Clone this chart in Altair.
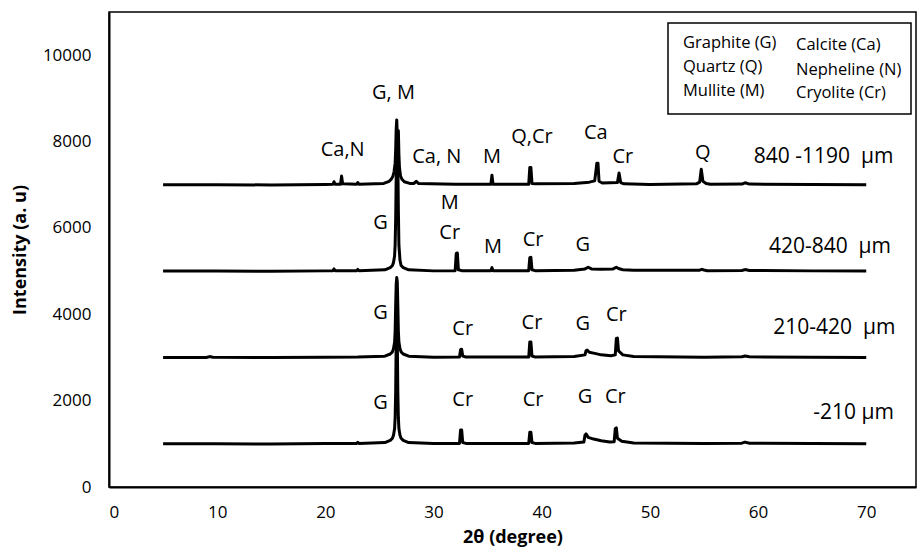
import altair as alt
import pandas as pd

# ---- XRD patterns (2θ in degrees, intensity in a.u., offset traces as plotted) ----
X_210 = [5, 10, 15, 20, 22.9, 23.0, 23.1, 25.5, 26.0, 26.2, 26.3, 26.4, 26.45, 26.5, 26.55, 26.6,
         26.65, 26.7, 26.75, 26.8, 26.9, 27.0, 27.2, 27.7, 30, 32.4, 32.5, 32.6, 32.7, 33,
         38.8, 38.9, 39.0, 39.1, 39.4, 43, 43.9, 44.0, 44.1, 44.3, 44.8, 45.5, 46.3, 46.7,
         46.8, 46.9, 47.0, 47.4, 48.5, 55, 58.5, 58.8, 59.2, 65, 70]
Y_210 = [1000, 1000, 995, 1005, 1010, 1035, 1010, 1030, 1080, 1130, 1200, 1350, 1600, 2200, 3400, 4500,
         3400, 2200, 1600, 1350, 1200, 1130, 1080, 1030, 1005, 1010, 1320, 1320, 1030, 1010,
         1010, 1270, 1270, 1030, 1010, 1020, 1040, 1200, 1230, 1150, 1110, 1070, 1040, 1050,
         1350, 1370, 1130, 1060, 1020, 1005, 1015, 1040, 1015, 1005, 1000]

X_420 = [5, 9.0, 9.3, 9.6, 15, 20, 23.0, 25.5, 26.0, 26.2, 26.3, 26.4, 26.45, 26.5, 26.55, 26.6,
         26.65, 26.7, 26.75, 26.8, 26.9, 27.0, 27.2, 27.7, 30, 32.4, 32.5, 32.6, 32.7, 33,
         38.8, 38.9, 39.0, 39.1, 39.4, 43, 44.0, 44.1, 44.2, 44.4, 44.8, 45.5, 46.4, 46.8,
         46.9, 47.0, 47.1, 47.5, 48.5, 55, 58.5, 58.8, 59.2, 65, 70]
Y_420 = [3000, 3000, 3020, 3005, 3000, 3005, 3010, 3030, 3080, 3130, 3200, 3350, 3600, 4200, 4700, 4850,
         4750, 4200, 3600, 3350, 3200, 3130, 3080, 3030, 3005, 3010, 3180, 3190, 3030, 3010,
         3010, 3360, 3360, 3030, 3010, 3020, 3060, 3160, 3170, 3120, 3100, 3060, 3040, 3060,
         3440, 3450, 3150, 3060, 3020, 3005, 3015, 3035, 3015, 3005, 3000]

X_840 = [5, 10, 15, 20, 20.7, 20.8, 20.9, 22.9, 23.0, 23.1, 25.5, 26.0, 26.2, 26.3, 26.4, 26.45,
         26.5, 26.55, 26.6, 26.65, 26.7, 26.75, 26.8, 26.9, 27.0, 27.2, 27.7, 30, 32.0, 32.1,
         32.2, 32.3, 32.6, 35.3, 35.4, 35.5, 38.8, 38.9, 39.0, 39.1, 39.4, 43, 44.0, 44.3,
         44.6, 45.5, 46.6, 46.9, 47.1, 47.5, 48.5, 54.6, 54.8, 55.0, 55.3, 58.5, 58.8, 59.2,
         65, 70]
Y_840 = [5000, 5000, 4995, 5005, 5010, 5050, 5010, 5010, 5040, 5010, 5030, 5080, 5130, 5200, 5350, 5600,
         6200, 7200, 7900, 8200, 7600, 6400, 5600, 5250, 5130, 5080, 5030, 5005, 5010, 5410,
         5420, 5030, 5010, 5010, 5080, 5010, 5010, 5310, 5320, 5030, 5010, 5020, 5050, 5090,
         5050, 5040, 5050, 5090, 5060, 5030, 5020, 5020, 5040, 5025, 5010, 5015, 5035, 5015,
         5005, 5000]

X_1190 = [5, 10, 15, 20, 20.7, 20.8, 20.9, 21.4, 21.5, 21.6, 22.9, 23.0, 23.1, 25.4, 25.9, 26.1,
          26.25, 26.35, 26.45, 26.5, 26.55, 26.6, 26.65, 26.7, 26.75, 26.8, 26.85, 26.95, 27.1,
          27.3, 27.8, 28.2, 28.4, 28.6, 32, 35.3, 35.4, 35.5, 38.8, 38.9, 39.0, 39.1, 39.4,
          43, 44.4, 44.9, 45.1, 45.2, 45.3, 45.6, 47.0, 47.15, 47.3, 47.6, 50, 54.3, 54.6,
          54.75, 54.9, 55.2, 55.6, 58.5, 58.8, 59.2, 65, 70]
Y_1190 = [7000, 7000, 6995, 7005, 7010, 7070, 7010, 7010, 7200, 7020, 7010, 7050, 7010, 7030, 7080, 7130,
          7200, 7300, 7500, 7800, 8300, 8500, 8150, 8200, 8250, 7700, 7400, 7200, 7120,
          7070, 7030, 7030, 7080, 7030, 7010, 7010, 7220, 7010, 7010, 7400, 7400, 7030, 7020,
          7030, 7060, 7090, 7500, 7500, 7080, 7040, 7050, 7270, 7050, 7020, 7005, 7020, 7060,
          7360, 7080, 7030, 7010, 7015, 7045, 7015, 7005, 7000]

SERIES = ["-210 µm", "210-420 µm", "420-840 µm", "840-1190 µm"]

# ---- peak labels ----
PEAK_TEXT = ["G, M", "Ca,N", "Ca, N", "M", "Q,Cr", "Ca", "Cr", "Q",
             "G", "M", "Cr", "M", "Cr", "G",
             "G", "Cr", "Cr", "G", "Cr",
             "G", "Cr", "Cr", "G", "Cr"]
PEAK_X = [26.3, 21.6, 30.3, 35.4, 39.1, 45.0, 47.5, 54.9,
          25.1, 31.5, 31.5, 35.5, 39.2, 43.8,
          25.1, 32.7, 39.1, 43.8, 46.9,
          25.1, 32.7, 39.2, 44.0, 46.8]
PEAK_Y = [9120, 7800, 7640, 7640, 8100, 8190, 7640, 7730,
          6110, 6570, 5880, 5560, 5720, 5600,
          4030, 3660, 3800, 3770, 3980,
          1940, 2010, 2010, 2080, 2080]

# ---- sample labels ----
SAMPLE_TEXT = ["840 -1190\u00a0\u00a0µm", "420-840\u00a0\u00a0µm", "210-420\u00a0\u00a0µm", "-210 µm"]
SAMPLE_X = [59.6, 61.0, 61.4, 65.1]
SAMPLE_Y = [7640, 5560, 3680, 1710]

# ---- phase key ----
KEY_LEFT = ["Graphite (G)", "Quartz (Q)", "Mullite (M)"]
KEY_RIGHT = ["Calcite (Ca)", "Nepheline (N)", "Cryolite (Cr)"]

FONT = "Open Sans"

rows = []
for name, xs, ys in zip(SERIES, [X_210, X_420, X_840, X_1190], [Y_210, Y_420, Y_840, Y_1190]):
    for x, y in zip(xs, ys):
        rows.append({"series": name, "theta": x, "intensity": y})
df = pd.DataFrame(rows)

xscale = alt.Scale(domain=[0, 74.6], nice=False, zero=False)
yscale = alt.Scale(domain=[0, 11000], nice=False)

lines = alt.Chart(df).mark_line(color="black", strokeWidth=3, strokeJoin="round").encode(
    x=alt.X("theta:Q", scale=xscale,
            axis=alt.Axis(title="2θ (degree)", values=[0, 10, 20, 30, 40, 50, 60, 70])),
    y=alt.Y("intensity:Q", scale=yscale,
            axis=alt.Axis(title="Intensity (a. u)", format="d",
                          values=[0, 2000, 4000, 6000, 8000, 10000])),
    detail="series:N",
)

peak_df = pd.DataFrame({"t": PEAK_TEXT, "x": PEAK_X, "y": PEAK_Y})
peaks = alt.Chart(peak_df).mark_text(font=FONT, fontSize=20, color="black",
                                     align="center", baseline="middle").encode(
    x=alt.X("x:Q", scale=xscale), y=alt.Y("y:Q", scale=yscale), text="t:N")

samp_df = pd.DataFrame({"t": SAMPLE_TEXT, "x": SAMPLE_X, "y": SAMPLE_Y})
samples = alt.Chart(samp_df).mark_text(font=FONT, fontSize=21, color="black",
                                       align="left", baseline="middle").encode(
    x=alt.X("x:Q", scale=xscale), y=alt.Y("y:Q", scale=yscale), text="t:N")

box = alt.Chart(pd.DataFrame({"k": [0]})).mark_rect(
    fill="white", stroke="black", strokeWidth=1.5).encode(
    x=alt.value(559), x2=alt.value(802), y=alt.value(11), y2=alt.value(102))

key_df = pd.DataFrame({
    "t": KEY_LEFT + KEY_RIGHT,
    "px": [574] * 3 + [687] * 3,
    "py": [31, 55, 79, 33, 58, 81],
})
key = alt.Chart(key_df).mark_text(font=FONT, fontSize=16.5, color="black",
                                  align="left", baseline="middle").encode(
    x=alt.X("px:Q", scale=None), y=alt.Y("py:Q", scale=None), text="t:N")

chart = alt.layer(lines, peaks, samples, box, key).properties(
    width=807, height=475,
    autosize=alt.AutoSizeParams(type="none"),
    padding={"left": 109, "top": 12, "right": 4, "bottom": 67},
).configure_view(stroke="black", strokeWidth=1.5).configure_axis(
    grid=False, ticks=False, domainColor="black", domainWidth=2,
    labelFont=FONT, labelFontSize=17, labelColor="black",
    titleFont=FONT, titleFontSize=18, titleFontWeight="bold", titleColor="black",
).configure_axisX(labelPadding=17, titlePadding=8).configure_axisY(
    labelPadding=18, titlePadding=13)

chart.save("out.html", embed_options={"renderer": "svg", "actions": False})
